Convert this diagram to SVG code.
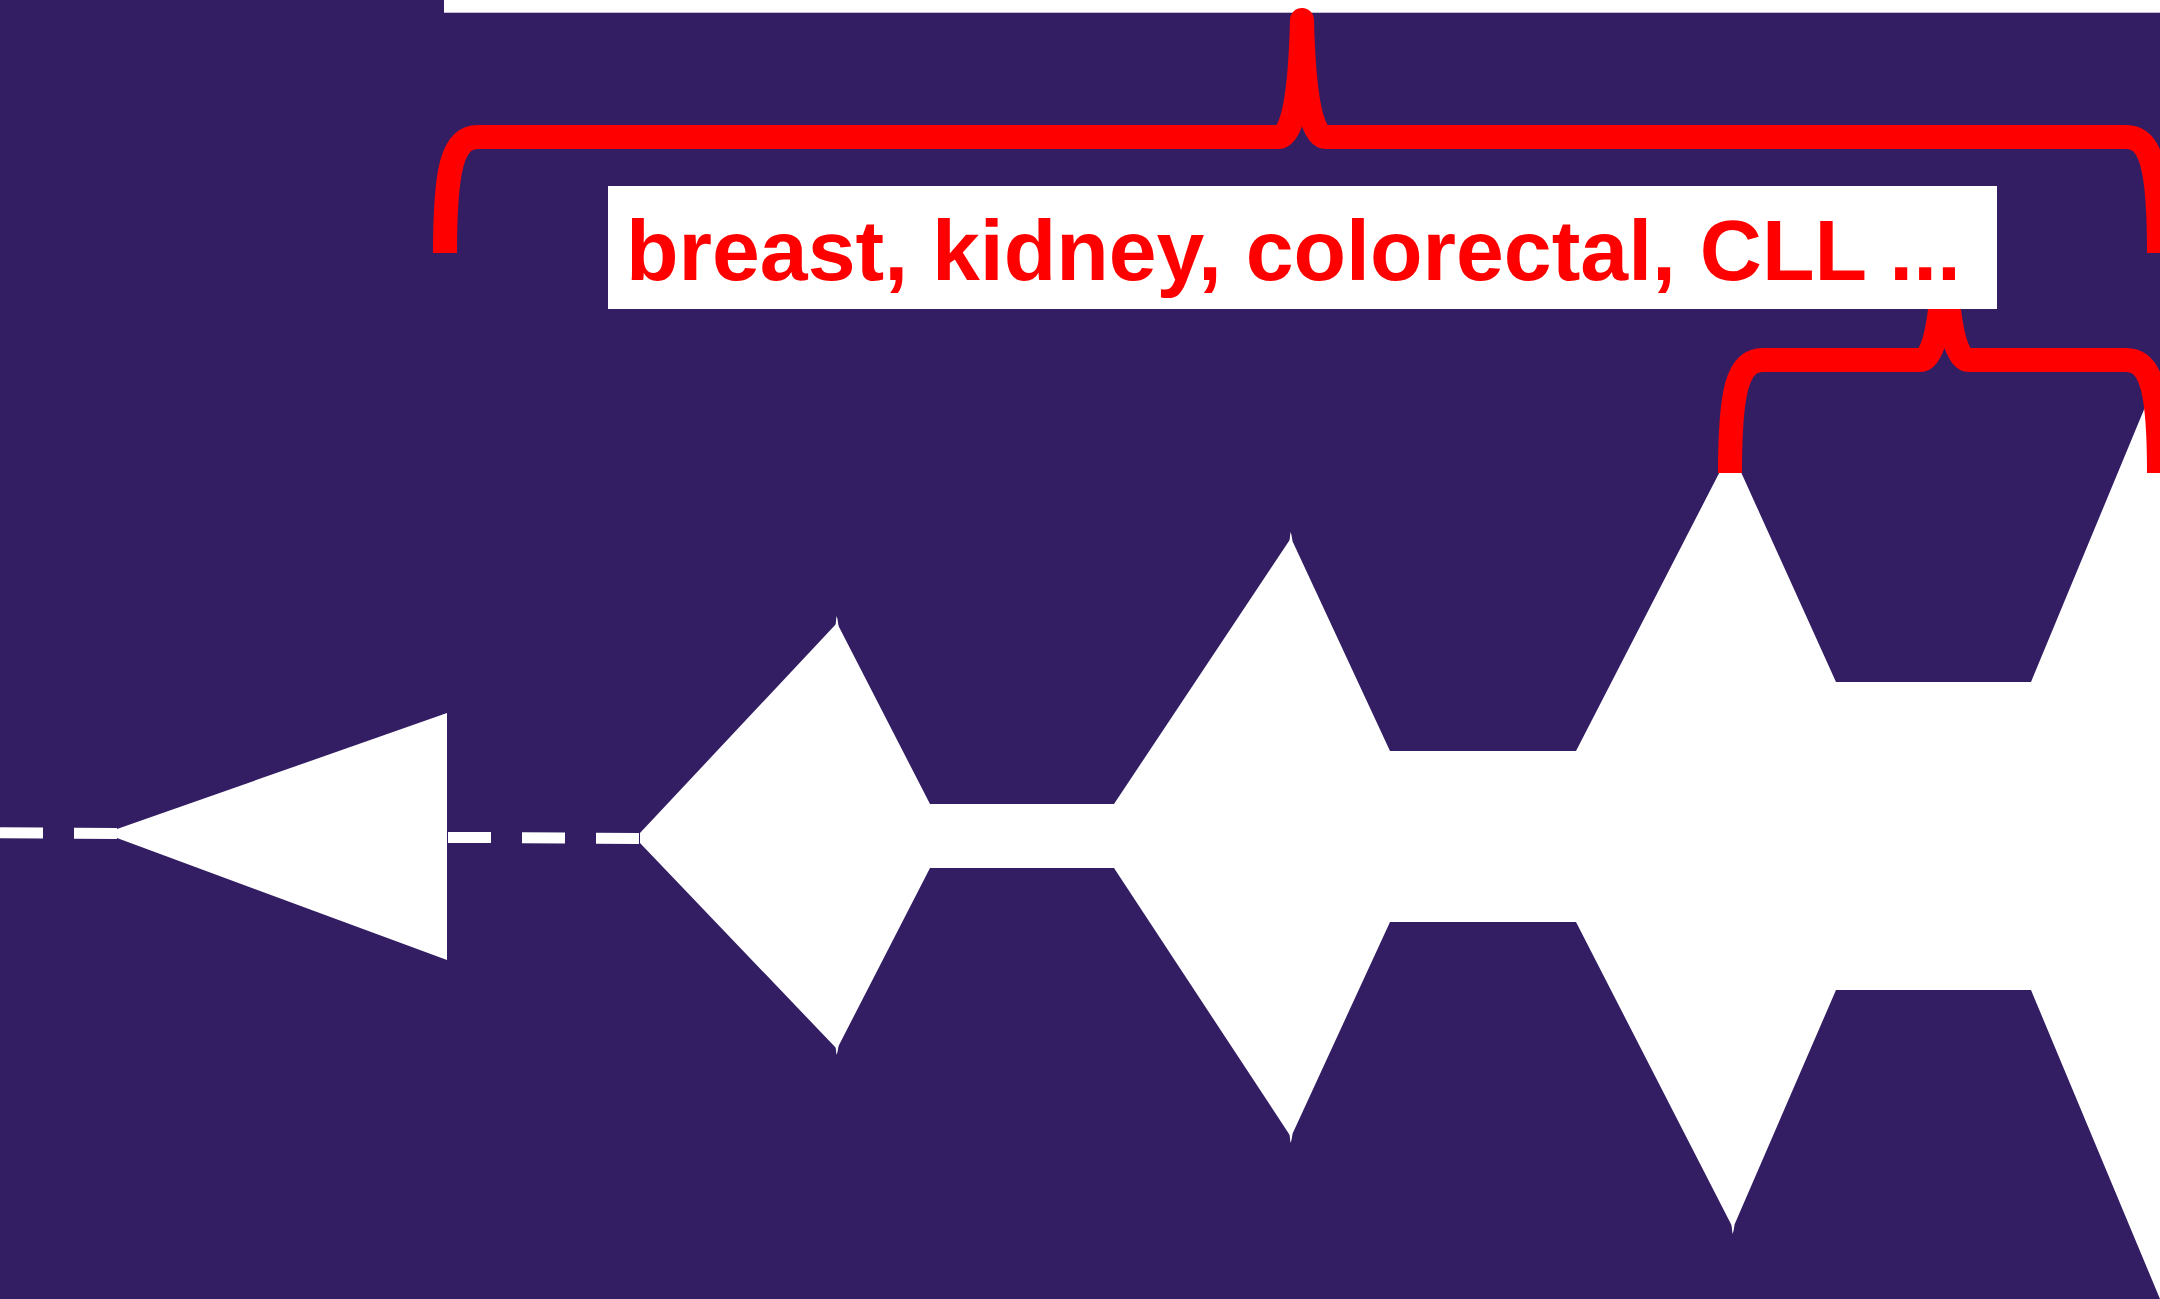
<svg xmlns="http://www.w3.org/2000/svg" width="2160" height="1299" viewBox="0 0 2160 1299">
<style>
.bg{fill:#331e63}
.wh{fill:#ffffff}
.dash{stroke:#ffffff;stroke-width:11;stroke-dasharray:43 31;fill:none}
.brace{stroke:#ff0000;stroke-width:24;fill:none;stroke-linecap:butt;stroke-linejoin:round}
.lbl{font-family:"Liberation Sans",Arial,Helvetica,sans-serif;font-weight:bold;font-size:86px;fill:#ff0000}
</style>
<rect class="bg" x="0" y="0" width="2160" height="1299"/>
<rect class="wh" x="444" y="0" width="1716" height="12.7"/>
<g id="tree">
<path class="wh" d="M640,833 L837,623 L930,804 L1114,804 L1291,538 L1390,751 L1576,751 L1731,450 L1836,682 L2031,682 L2160,371 L2160,1299 L2031,990 L1836,990 L1733,1228 L1576,922 L1390,922 L1291,1137 L1114,868 L930,868 L837,1049 L640,843 Z"/>
<path class="wh" d="M835.5,626 L836.5,616 L837.5,619 L838.5,626 Z M1289.5,541 L1290.5,532 L1291.5,535 L1292.5,541 Z M1731.5,1225 L1732.5,1234 L1733.5,1231 L1734.5,1225 Z M835.5,1046 L836.5,1055 L837.5,1052 L838.5,1046 Z M1289.5,1134 L1290.5,1143 L1291.5,1140 L1292.5,1134 Z"/>
</g>
<g id="triangle">
<path class="wh" d="M117,829 L447,713 L447,960 L117,838 Z"/>
</g>
<g id="connectors">
<line class="dash" x1="0" y1="832.8" x2="117" y2="833.6"/>
<line class="dash" x1="448" y1="837.4" x2="640" y2="838.4"/>
<path id="brace-top" class="brace" d="M445,253 C445,170 452,137 478,137 L1278,137 C1292,137 1300,100 1302,20 C1304,100 1312,137 1326,137 L2126,137 C2152,137 2159,170 2159,253"/>
<path id="brace-sub" class="brace" d="M1730,473 C1730,392 1737,360 1763,360 L1920,360 C1934,360 1942,323 1944.5,243 C1947,323 1955,360 1969,360 L2126,360 C2152,360 2159,392 2159,473"/>
</g>
<g id="label">
<rect class="wh" x="608" y="186" width="1389" height="123"/>
<text class="lbl" x="626" y="280">breast, kidney, colorectal, CLL ...</text>
</g>
</svg>
